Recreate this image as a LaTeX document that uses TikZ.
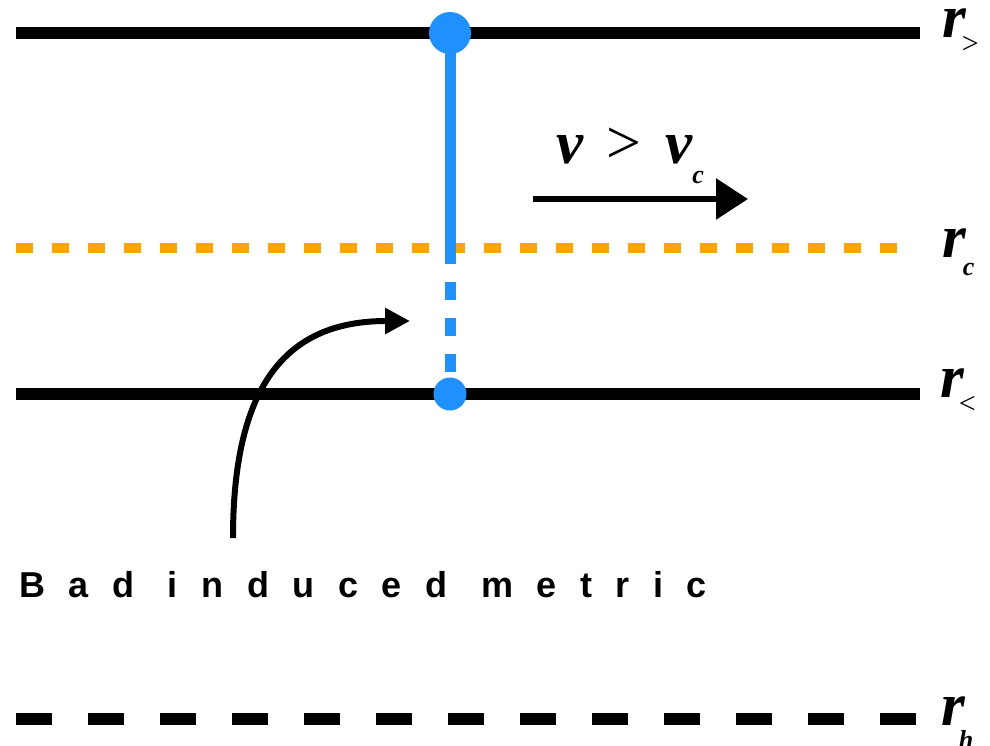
\documentclass[tikz,border=0pt]{standalone}
\usepackage{fontspec}
\setmainfont{Liberation Serif}
\newfontfamily\spacedsans{Liberation Sans}[LetterSpace=65.5]
\usetikzlibrary{arrows.meta}
\definecolor{dotblue}{HTML}{1E90FF}
\definecolor{critorange}{HTML}{FFA500}
\newcommand{\bigsym}[1]{{\fontsize{61}{61}\selectfont\bfseries\itshape #1}}
\newcommand{\lowsub}[2]{\raisebox{-#1}{#2}}

\begin{document}
\begin{tikzpicture}[x=1pt, y=-1pt,
  horizon/.style={line width=12pt},
  label/.style={inner sep=0pt, anchor=base west}]
\useasboundingbox (0,0) rectangle (990,745);
% Branes
\draw[horizon] (16,33) -- (920,33);
\draw[horizon] (16,394) -- (920,394);
% Critical radius
\draw[critorange, line width=10pt, dash pattern=on 17pt off 19pt] (16,248) -- (905,248);
% Horizon
\draw[horizon, dash pattern=on 36pt off 36pt] (16,719) -- (920,719);
% String endpoints
\coordinate (top) at (450,33);
\coordinate (cross) at (450,248);
\coordinate (bottom) at (450,394);
\draw[dotblue, line width=11pt] (top) -- (cross);
\draw[dotblue, line width=11pt, dash pattern=on 18pt off 18pt] ([yshift=2pt]cross) -- (bottom);
\fill[dotblue] (top) circle (21pt);
\fill[dotblue] (bottom) circle (16.5pt);
% Radius labels
\node[label] (rtop) at (942,37) {\bigsym{r}\kern-4pt\lowsub{16pt}{\fontsize{30}{30}\selectfont >}};
\node[label] (rc) at (942,257) {\bigsym{r}\kern-3pt\lowsub{18pt}{\fontsize{26}{26}\selectfont\bfseries\itshape c}};
\node[label] (rless) at (940,397) {\bigsym{r}\kern-5pt\lowsub{16pt}{\fontsize{30}{30}\selectfont <}};
\node[label] (rh) at (941,725) {\bigsym{r}\kern-6pt\lowsub{23pt}{\fontsize{26}{26}\selectfont\bfseries\itshape h}};
% Velocity
\node[label] (vel) at (556,163) {\bigsym{v}\hspace{23pt}{\fontsize{62}{62}\selectfont >}\hspace{24pt}\bigsym{v}\lowsub{20pt}{\fontsize{26}{26}\selectfont\bfseries\itshape c}};
\coordinate (vstart) at (533,199);
\coordinate (vend) at (748,199);
\draw[line width=6pt, -{Triangle[length=32pt,width=40pt]}] (vstart) -- (vend);
% Induced metric
\node[label] (bad) at (19,597) {\spacedsans\bfseries\fontsize{36}{36}\selectfont Bad induced metric};
\coordinate (cstart) at (233,538);
\coordinate (cend) at (410,321);
\draw[line width=6pt, -{Triangle[length=25pt,width=25pt]}] (cstart) .. controls (233,380) and (290,321) .. (cend);
\end{tikzpicture}
\end{document}
